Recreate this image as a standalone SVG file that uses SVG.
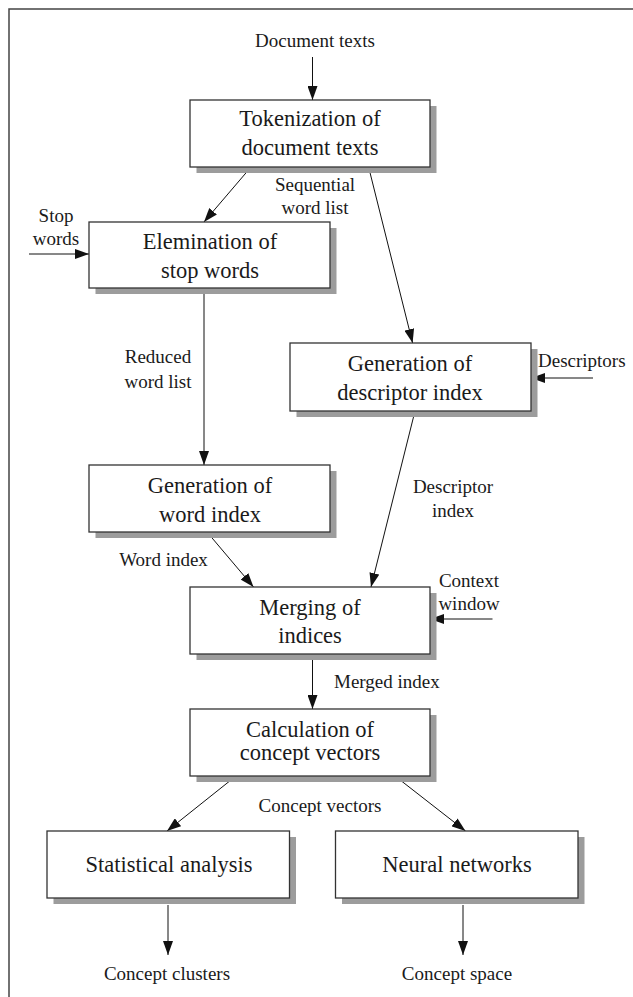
<svg xmlns="http://www.w3.org/2000/svg" width="633" height="997" viewBox="0 0 633 997">
<style>
.shadow{fill:#9c9c9c;stroke:none}
.box{fill:#fff;stroke:#333;stroke-width:1.3}
.bt{font-family:"Liberation Serif","Times New Roman",serif;font-size:22.5px;fill:#1a1a1a;text-anchor:middle}
.lb{font-family:"Liberation Serif","Times New Roman",serif;font-size:19px;fill:#1a1a1a;text-anchor:middle}
.ln{stroke:#111;stroke-width:1;fill:none;marker-end:url(#ah)}
</style>
<defs>
<marker id="ah" markerUnits="userSpaceOnUse" markerWidth="14" markerHeight="10" refX="14" refY="5" orient="auto">
<path d="M0,0 L14,5 L0,10 z" fill="#111"/>
</marker>
</defs>
<rect width="633" height="997" fill="#fff"/>
<g id="frame" stroke="#444" stroke-width="1.5" fill="none">
<path d="M633,9 H9 V997"/>
</g>
<g id="connectors">
<line class="ln" x1="312.5" y1="57" x2="312.5" y2="100"/>
<line class="ln" x1="251" y1="167" x2="204" y2="222"/>
<line class="ln" x1="368.6" y1="167" x2="412.6" y2="343"/>
<line class="ln" x1="29" y1="254" x2="89" y2="254"/>
<line class="ln" x1="204" y1="288" x2="204" y2="465"/>
<line class="ln" x1="593" y1="378" x2="531" y2="378"/>
<line class="ln" x1="415" y1="411" x2="371" y2="587"/>
<line class="ln" x1="207" y1="532" x2="253.5" y2="587"/>
<line class="ln" x1="492.5" y1="619" x2="430" y2="619"/>
<line class="ln" x1="312.5" y1="654" x2="312.5" y2="709"/>
<line class="ln" x1="236" y1="776" x2="167" y2="831"/>
<line class="ln" x1="395" y1="776" x2="465.5" y2="831"/>
<line class="ln" x1="168" y1="905" x2="168" y2="955"/>
<line class="ln" x1="463" y1="905" x2="463" y2="955"/>
</g>
<g id="labels">
<text class="lb" x="315" y="47">Document texts</text>
<text class="lb" x="315" y="191">Sequential</text>
<text class="lb" x="315" y="214">word list</text>
<text class="lb" x="56" y="222">Stop</text>
<text class="lb" x="56" y="245">words</text>
<text class="lb" x="158" y="363">Reduced</text>
<text class="lb" x="158" y="388">word list</text>
<text class="lb" x="538" y="367" style="text-anchor:start">Descriptors</text>
<text class="lb" x="453" y="493">Descriptor</text>
<text class="lb" x="453" y="517">index</text>
<text class="lb" x="163.5" y="566">Word index</text>
<text class="lb" x="469" y="587">Context</text>
<text class="lb" x="469" y="610">window</text>
<text class="lb" x="334" y="688" style="text-anchor:start">Merged index</text>
<text class="lb" x="320" y="812">Concept vectors</text>
<text class="lb" x="167" y="980">Concept clusters</text>
<text class="lb" x="457" y="980">Concept space</text>
</g>
<g id="tokenization">
<rect class="shadow" x="196.5" y="106" width="240" height="67"/>
<rect class="box" x="190" y="100" width="240" height="67"/>
<text class="bt" x="310" y="126">Tokenization of</text>
<text class="bt" x="310" y="155">document texts</text>
</g>
<g id="elemination">
<rect class="shadow" x="95.5" y="228" width="241" height="66"/>
<rect class="box" x="89" y="222" width="241" height="66"/>
<text class="bt" x="210" y="249">Elemination of</text>
<text class="bt" x="210" y="278">stop words</text>
</g>
<g id="descriptor-index">
<rect class="shadow" x="296.5" y="349" width="241" height="68"/>
<rect class="box" x="290" y="343" width="241" height="68"/>
<text class="bt" x="410" y="371">Generation of</text>
<text class="bt" x="410" y="400">descriptor index</text>
</g>
<g id="word-index">
<rect class="shadow" x="95.5" y="471" width="241" height="67"/>
<rect class="box" x="89" y="465" width="241" height="67"/>
<text class="bt" x="210" y="493">Generation of</text>
<text class="bt" x="210" y="522">word index</text>
</g>
<g id="merging">
<rect class="shadow" x="196.5" y="593" width="240" height="67"/>
<rect class="box" x="190" y="587" width="240" height="67"/>
<text class="bt" x="310" y="615">Merging of</text>
<text class="bt" x="310" y="643">indices</text>
</g>
<g id="calculation">
<rect class="shadow" x="196.5" y="715" width="240" height="67"/>
<rect class="box" x="190" y="709" width="240" height="67"/>
<text class="bt" x="310" y="737">Calculation of</text>
<text class="bt" x="310" y="760">concept vectors</text>
</g>
<g id="statistical">
<rect class="shadow" x="53.5" y="837" width="242.5" height="67"/>
<rect class="box" x="47" y="831" width="242.5" height="67"/>
<text class="bt" x="169" y="872">Statistical analysis</text>
</g>
<g id="neural">
<rect class="shadow" x="342" y="837" width="242.5" height="67"/>
<rect class="box" x="335.5" y="831" width="242.5" height="67"/>
<text class="bt" x="457" y="872">Neural networks</text>
</g>
</svg>
